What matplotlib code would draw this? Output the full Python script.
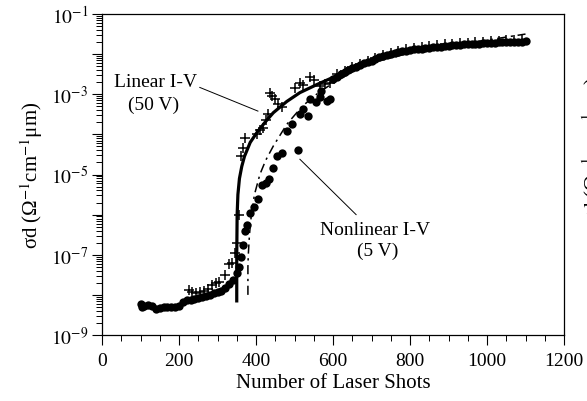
import matplotlib
matplotlib.use("Agg")
import matplotlib.pyplot as plt
import numpy as np
from matplotlib.ticker import FixedLocator, NullFormatter

plt.rcParams['font.family'] = ['Liberation Serif', 'DejaVu Serif']
plt.rcParams['mathtext.fontset'] = 'stix'

# nonlinear I-V (5 V) measurement, filled circles: shots, log10(sigma*d)
dot_shots = [100, 105, 110, 120, 130, 140, 150, 160, 170, 180, 190, 200, 210, 220, 230,
             240, 250, 260, 270, 280, 290, 300, 310, 320, 330, 340, 350, 356, 362,
             367, 372, 377, 384, 396, 405, 415, 425, 435, 445, 454, 467, 480, 493,
             510, 514, 523, 536, 540, 555, 566, 570, 584, 592,
             600, 610, 620, 630, 640, 650, 660, 670, 680, 690, 700, 710, 720, 730,
             740, 750, 760, 770, 780, 790, 800, 810, 820, 830, 840, 850, 860, 870,
             880, 890, 900, 910, 920, 930, 940, 950, 960, 970, 980, 990, 1000, 1010,
             1020, 1030, 1040, 1050, 1060, 1070, 1080, 1090, 1100]
dot_log = [-8.22, -8.30, -8.27, -8.24, -8.28, -8.34, -8.33, -8.31, -8.30, -8.29, -8.30, -8.27,
           -8.18, -8.14, -8.12, -8.10, -8.08, -8.06, -8.04, -8.00, -7.96, -7.93, -7.90,
           -7.84, -7.74, -7.62, -7.45, -7.30, -7.05, -6.75, -6.42, -6.25, -5.95, -5.80,
           -5.60, -5.25, -5.20, -5.10, -4.85, -4.54, -4.46, -3.92, -3.75, -4.38, -3.50,
           -3.38, -3.54, -3.13, -3.20, -3.08, -2.92, -3.17, -3.13,
           -2.62, -2.56, -2.50, -2.45, -2.40, -2.35, -2.31, -2.27, -2.23, -2.19, -2.16,
           -2.12, -2.08, -2.04, -2.02, -1.99, -1.97, -1.95, -1.93, -1.91, -1.90, -1.88,
           -1.87, -1.86, -1.85, -1.84, -1.83, -1.82, -1.81, -1.80, -1.79, -1.78, -1.78,
           -1.77, -1.76, -1.76, -1.75, -1.74, -1.74, -1.73, -1.73, -1.72, -1.72, -1.71,
           -1.71, -1.70, -1.70, -1.70, -1.69, -1.69, -1.68]

# linear I-V (50 V) measurement, crosses
cross_shots = [225, 235, 245, 255, 265, 275, 285, 295, 305, 320, 330, 338, 345, 350,
               356, 362, 366, 371, 402, 410, 418, 425, 432, 436, 442, 449, 458, 467,
               500, 514, 523, 540, 550, 566, 580, 592,
               610, 630, 650, 670, 690, 710, 730, 750, 770, 790, 810, 830, 850, 870,
               890, 910, 930, 950, 970, 990, 1010, 1030, 1050, 1070, 1090]
cross_log = [-7.88, -7.92, -7.95, -7.93, -7.90, -7.85, -7.76, -7.70, -7.68, -7.50, -7.22,
             -7.20, -6.95, -6.70, -6.00, -4.55, -4.35, -4.08, -4.00, -3.90, -3.85, -3.65,
             -3.50, -2.96, -3.05, -3.12, -3.25, -3.33, -2.85, -2.71, -2.78, -2.58, -2.65,
             -2.79, -2.75, -2.71,
             -2.50, -2.42, -2.33, -2.25, -2.17, -2.10, -2.02, -1.96, -1.92, -1.88, -1.85,
             -1.83, -1.80, -1.78, -1.76, -1.75, -1.73, -1.72, -1.70, -1.69, -1.68, -1.67,
             -1.66, -1.66, -1.65]

# model curves
lin_shots = [350, 350, 351, 353, 357, 363, 370, 385, 402, 425, 445, 480, 514, 560,
             600, 670, 750, 850, 950, 1100]
lin_log = [-8.15, -7.0, -6.0, -5.5, -5.1, -4.8, -4.55, -4.2, -3.96, -3.68, -3.46, -3.18,
           -2.96, -2.75, -2.58, -2.30, -2.02, -1.85, -1.76, -1.67]

nonlin_shots = [379, 379, 380, 383, 388, 396, 410, 425, 445, 480, 520, 560, 600, 650,
                700, 800, 900, 1000, 1100]
nonlin_log = [-8.0, -7.3, -7.0, -6.5, -6.0, -5.5, -5.0, -4.65, -4.29, -3.75, -3.3, -2.98,
              -2.72, -2.45, -2.22, -1.97, -1.80, -1.65, -1.50]

ytick_exp = [-9, -8, -7, -6, -5, -4, -3, -2, -1]
ytick_labels = ['$10^{-9}$', '', '$10^{-7}$', '', '$10^{-5}$', '', '$10^{-3}$', '', '$10^{-1}$']
xticks = [0, 200, 400, 600, 800, 1000, 1200]

fig = plt.figure(figsize=(5.87, 4.02), dpi=100)
ax = fig.add_axes([102 / 587, 1 - 336 / 402, 462 / 587, 321 / 402])

ax.plot(lin_shots, 10.0 ** np.array(lin_log), color='black', lw=2.3, zorder=3)
ax.plot(nonlin_shots, 10.0 ** np.array(nonlin_log), color='black', lw=1.1,
        linestyle=(0, (6, 3, 1.5, 3)), zorder=3)
ax.plot(dot_shots, 10.0 ** np.array(dot_log), 'o', color='black', ms=6, mew=0, zorder=2)
ax.plot(cross_shots, 10.0 ** np.array(cross_log), '+', color='black', ms=7, mew=1.1, zorder=2)

ax.set_yscale('log')
ax.set_xlim(0, 1200)
ax.set_ylim(1e-9, 1e-1)
ax.set_xticks(xticks)
ax.xaxis.set_minor_locator(FixedLocator(np.arange(0, 1201, 50)))
ax.yaxis.set_major_locator(FixedLocator([10.0 ** e for e in ytick_exp]))
ax.set_yticklabels(ytick_labels)
ax.yaxis.set_minor_locator(FixedLocator([m * 10.0 ** e for e in ytick_exp[:-1] for m in range(2, 10)]))
ax.yaxis.set_minor_formatter(NullFormatter())

ax.tick_params(which='major', direction='out', length=7, width=0.8, labelsize=14, pad=3)
ax.tick_params(which='minor', direction='out', length=4, width=0.7)
ax.tick_params(axis='x', which='major', pad=5)
for s in ax.spines.values():
    s.set_linewidth(0.9)

ax.set_xlabel('Number of Laser Shots', fontsize=15, labelpad=3)
ax.set_ylabel('σd (Ω$^{-1}$cm$^{-1}$μm)', fontsize=15, labelpad=4)

# annotations
ax.text(138, 10 ** -2.675, 'Linear I-V', fontsize=14, ha='center', va='center')
ax.text(134, 10 ** -3.25, '(50 V)', fontsize=14, ha='center', va='center')
ax.plot([254, 405], [10 ** -2.83, 10 ** -3.42], color='black', lw=0.7)

ax.text(710, 10 ** -6.38, 'Nonlinear I-V', fontsize=14, ha='center', va='center')
ax.text(716, 10 ** -6.88, '(5 V)', fontsize=14, ha='center', va='center')
ax.plot([514, 660], [10 ** -4.62, 10 ** -6.0], color='black', lw=0.7)

# clipped label of the neighbouring panel, cut by the right edge as in the source
fig.text(594 / 587, 1 - 150 / 402, 'σd (Ω$^{-1}$cm$^{-1}$μm)', fontsize=15,
         rotation=90, ha='center', va='center')

fig.savefig('out.png', dpi=100)
